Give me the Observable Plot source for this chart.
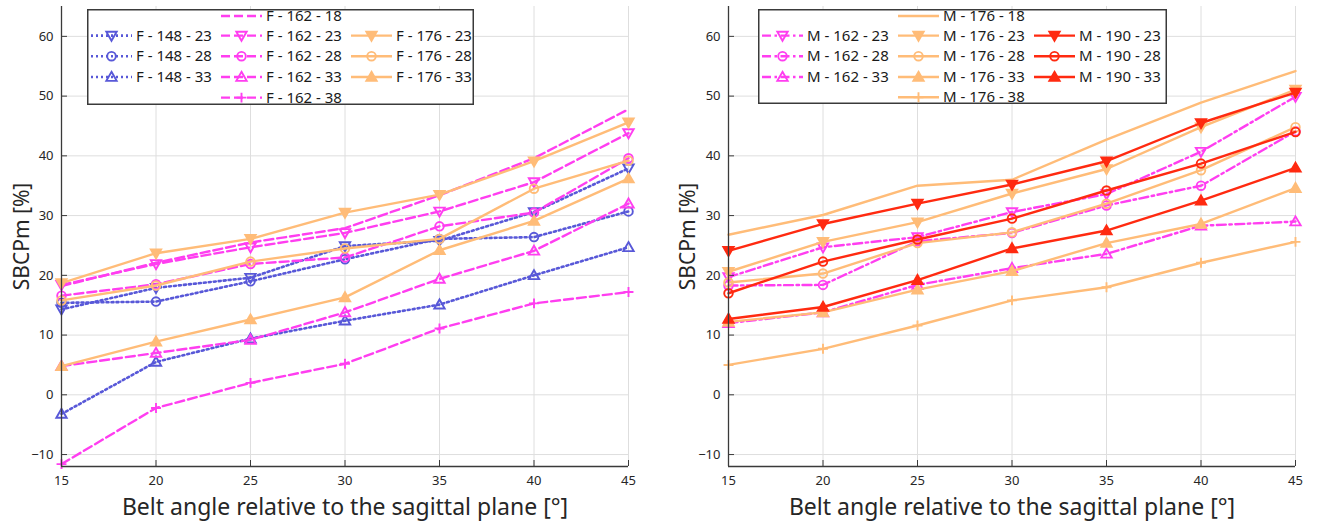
<!DOCTYPE html>
<html>
<head>
<meta charset="utf-8">
<script src="https://cdn.jsdelivr.net/npm/d3@7"></script>
<script src="https://cdn.jsdelivr.net/npm/@observablehq/plot@0.6"></script>
<style>
  html, body { margin: 0; padding: 0; background: #fff; }
  #chart { position: relative; width: 1317px; height: 526px; font-family: "Noto Sans", sans-serif; }
  #chart > figure, #chart > svg { margin: 0; }
</style>
</head>
<body>
<div id="chart"></div>
<script>
// Belt angle (x) and tick values
const angles = [15, 20, 25, 30, 35, 40, 45];
const xTicks = [15, 20, 25, 30, 35, 40, 45];
const yTicks = [-10, 0, 10, 20, 30, 40, 50, 60];
const xDomain = [15, 45];
const yDomain = [-12, 65];

// Female occupants: stature - BMI
const f148_23 = [14.3, 17.9, 19.6, 24.9, 25.8, 30.6, 37.9];
const f148_28 = [15.4, 15.6, 19.0, 22.7, 26.1, 26.4, 30.7];
const f148_33 = [-3.2, 5.5, 9.4, 12.4, 15.1, 20.0, 24.7];
const f162_18 = [18.2, 22.1, 25.5, 27.9, 33.4, 39.6, 47.8];
const f162_23 = [18.4, 21.9, 24.7, 27.1, 30.7, 35.6, 43.8];
const f162_28 = [16.6, 18.5, 21.9, 23.0, 28.2, 30.5, 39.6];
const f162_33 = [4.8, 7.0, 9.2, 13.8, 19.4, 24.1, 32.0];
const f162_38 = [-11.6, -2.2, 2.0, 5.2, 11.1, 15.3, 17.2];
const f176_23 = [18.7, 23.7, 26.1, 30.5, 33.5, 39.1, 45.6];
const f176_28 = [15.8, 18.3, 22.3, 24.5, 26.1, 34.5, 39.2];
const f176_33 = [4.8, 8.9, 12.6, 16.3, 24.2, 29.1, 36.2];

// Male occupants: stature - BMI
const m162_23 = [19.7, 24.7, 26.4, 30.6, 33.6, 40.7, 49.9];
const m162_28 = [18.3, 18.4, 25.7, 27.1, 31.7, 35.0, 44.1];
const m162_33 = [12.0, 13.8, 18.4, 21.2, 23.6, 28.3, 29.0];
const m176_18 = [26.8, 30.1, 35.0, 36.0, 42.7, 48.9, 54.2];
const m176_23 = [20.6, 25.6, 28.9, 33.7, 37.8, 44.8, 51.1];
const m176_28 = [18.8, 20.3, 25.4, 27.2, 32.0, 37.6, 44.8];
const m176_33 = [12.2, 13.8, 17.6, 20.7, 25.4, 28.6, 34.6];
const m176_38 = [5.0, 7.7, 11.6, 15.8, 18.0, 22.1, 25.6];
const m190_23 = [24.1, 28.6, 32.0, 35.2, 39.1, 45.5, 50.6];
const m190_28 = [17.0, 22.3, 26.0, 29.5, 34.2, 38.7, 44.0];
const m190_33 = [12.7, 14.7, 19.2, 24.5, 27.5, 32.5, 38.0];

const xLabel = "Belt angle relative to the sagittal plane [°]";
const yLabel = "SBCPm [%]";

// Line and marker styles
const blue = "#5858d8", pink = "#ff3ef0", orange = "#ffbc78", red = "#ff2a10";
const dotted = "2,3", dashed = "9,4", dashDot = "9,3.5,2.5,3.5", solid = null;

function triangle(dir) {
  return {
    draw(ctx, size) {
      const r = Math.sqrt(size / Math.PI);
      ctx.moveTo(0, -1.15 * r * dir);
      ctx.lineTo(1.15 * r, 0.85 * r * dir);
      ctx.lineTo(-1.15 * r, 0.85 * r * dir);
      ctx.closePath();
    }
  };
}
const triUp = triangle(1), triDown = triangle(-1);
const plusMark = {
  draw(ctx, size) {
    const r = Math.sqrt(size / Math.PI) * 1.1;
    ctx.moveTo(-r, 0); ctx.lineTo(r, 0);
    ctx.moveTo(0, -r); ctx.lineTo(0, r);
  }
};
const circleMark = d3.symbolCircle;

function spec(name, values, color, dash, symbol, filled, col, row) {
  return {name, values, color, dash, symbol, filled, col, row};
}

const femaleSeries = [
  spec("F - 148 - 23", f148_23, blue, dotted, triDown, false, 0, 1),
  spec("F - 148 - 28", f148_28, blue, dotted, circleMark, false, 0, 2),
  spec("F - 148 - 33", f148_33, blue, dotted, triUp, false, 0, 3),
  spec("F - 162 - 18", f162_18, pink, dashed, null, false, 1, 0),
  spec("F - 162 - 23", f162_23, pink, dashed, triDown, false, 1, 1),
  spec("F - 162 - 28", f162_28, pink, dashed, circleMark, false, 1, 2),
  spec("F - 162 - 33", f162_33, pink, dashed, triUp, false, 1, 3),
  spec("F - 162 - 38", f162_38, pink, dashed, plusMark, false, 1, 4),
  spec("F - 176 - 23", f176_23, orange, solid, triDown, true, 2, 1),
  spec("F - 176 - 28", f176_28, orange, solid, circleMark, false, 2, 2),
  spec("F - 176 - 33", f176_33, orange, solid, triUp, true, 2, 3)
];

const maleSeries = [
  spec("M - 162 - 23", m162_23, pink, dashDot, triDown, false, 0, 1),
  spec("M - 162 - 28", m162_28, pink, dashDot, circleMark, false, 0, 2),
  spec("M - 162 - 33", m162_33, pink, dashDot, triUp, false, 0, 3),
  spec("M - 176 - 18", m176_18, orange, solid, null, false, 1, 0),
  spec("M - 176 - 23", m176_23, orange, solid, triDown, true, 1, 1),
  spec("M - 176 - 28", m176_28, orange, solid, circleMark, false, 1, 2),
  spec("M - 176 - 33", m176_33, orange, solid, triUp, true, 1, 3),
  spec("M - 176 - 38", m176_38, orange, solid, plusMark, false, 1, 4),
  spec("M - 190 - 23", m190_23, red, solid, triDown, true, 2, 1),
  spec("M - 190 - 28", m190_28, red, solid, circleMark, false, 2, 2),
  spec("M - 190 - 33", m190_33, red, solid, triUp, true, 2, 3)
];

const markerR = s => (s === circleMark ? 4.3 : 4.5);

function panel(series, {width, marginLeft, marginRight, labelDx}) {
  const marks = [
    Plot.gridX(xTicks, {stroke: "#dedede", strokeOpacity: 1, strokeWidth: 1}),
    Plot.gridY(yTicks, {stroke: "#dedede", strokeOpacity: 1, strokeWidth: 1})
  ];
  for (const s of series) {
    const rows = angles.map((a, i) => ({angle: a, value: s.values[i]}));
    marks.push(Plot.line(rows, {
      x: "angle", y: "value", stroke: s.color, strokeWidth: s.dash === dotted ? 2.6 : 2.4,
      strokeDasharray: s.dash, strokeLinejoin: "round"
    }));
    if (s.symbol) {
      marks.push(Plot.dot(rows, {
        x: "angle", y: "value", symbol: s.symbol, r: markerR(s.symbol),
        stroke: s.color, strokeWidth: 1.9, fill: s.filled ? s.color : "none"
      }));
    }
  }
  marks.push(
    // axis lines on the left and bottom only
    Plot.ruleX([xDomain[0]], {stroke: "#3a3a3a", strokeWidth: 1.3}),
    Plot.ruleY([yDomain[0]], {stroke: "#3a3a3a", strokeWidth: 1.3}),
    // inward-pointing ticks
    Plot.axisX(xTicks, {tickSize: 6, dy: -6, fill: "none", stroke: "#3a3a3a", label: null}),
    Plot.axisY(yTicks, {tickSize: 6, dx: 6, fill: "none", stroke: "#3a3a3a", label: null}),
    // tick labels
    Plot.axisX(xTicks, {tickSize: 0, tickPadding: 9, fill: "#262626", fontSize: 13, label: null}),
    Plot.axisY(yTicks, {tickSize: 0, tickPadding: 8, fill: "#262626", fontSize: 13, label: null}),
    // axis titles
    Plot.text([xLabel], {frameAnchor: "bottom", dy: 41, lineAnchor: "middle", textAnchor: "middle", fontSize: 23, fill: "#262626"}),
    Plot.text([yLabel], {frameAnchor: "left", dx: labelDx, rotate: -90, lineAnchor: "middle", textAnchor: "middle", fontSize: 21, fill: "#262626"})
  );
  return Plot.plot({
    width, height: 526,
    marginLeft, marginRight, marginTop: 6, marginBottom: 60,
    x: {domain: xDomain, label: null},
    y: {domain: yDomain, label: null},
    style: {fontFamily: "Noto Sans", fontSize: "13px", background: "white", overflow: "visible"},
    marks
  });
}

function legend(container, series, box) {
  const svg = d3.select(container).append("svg")
    .style("position", "absolute")
    .style("left", box.x + "px").style("top", box.y + "px")
    .attr("width", box.w).attr("height", box.h)
    .style("font-family", "Noto Sans").style("overflow", "visible");
  svg.append("rect")
    .attr("x", 0.75).attr("y", 0.75).attr("width", box.w - 1.5).attr("height", box.h - 1.5)
    .attr("fill", "white").attr("stroke", "#3a3a3a").attr("stroke-width", 1.5);
  for (const s of series) {
    const x0 = box.cols[s.col] - box.x;
    const cy = box.rows[s.row] - box.y;
    svg.append("line")
      .attr("x1", x0).attr("x2", x0 + 41).attr("y1", cy).attr("y2", cy)
      .attr("stroke", s.color).attr("stroke-width", s.dash === dotted ? 2.6 : 2.4)
      .attr("stroke-dasharray", s.dash);
    if (s.symbol) {
      const r = markerR(s.symbol);
      svg.append("path")
        .attr("transform", `translate(${x0 + 20.5},${cy})`)
        .attr("d", d3.symbol().type(s.symbol).size(Math.PI * r * r)())
        .attr("stroke", s.color).attr("stroke-width", 1.9)
        .attr("fill", s.filled ? s.color : "none");
    }
    svg.append("text")
      .attr("x", x0 + 45).attr("y", cy).attr("dy", "0.35em")
      .attr("font-size", 15).attr("fill", "#1a1a1a")
      .text(s.name);
  }
}

const chart = document.getElementById("chart");
const left = panel(femaleSeries, {width: 658, marginLeft: 61, marginRight: 30, labelDx: -39});
const right = panel(maleSeries, {width: 659, marginLeft: 70, marginRight: 22, labelDx: -40});
for (const [el, x] of [[left, 0], [right, 658]]) {
  el.style.position = "absolute";
  el.style.left = x + "px";
  el.style.top = "0px";
  chart.appendChild(el);
}
legend(chart, femaleSeries, {x: 87, y: 9, w: 387, h: 96, cols: [91, 221, 351], rows: [16, 35.6, 56.2, 77, 97.6]});
legend(chart, maleSeries, {x: 758, y: 9, w: 409, h: 95, cols: [762, 898, 1034], rows: [16, 35.6, 56.2, 77, 97.2]});
</script>
</body>
</html>
